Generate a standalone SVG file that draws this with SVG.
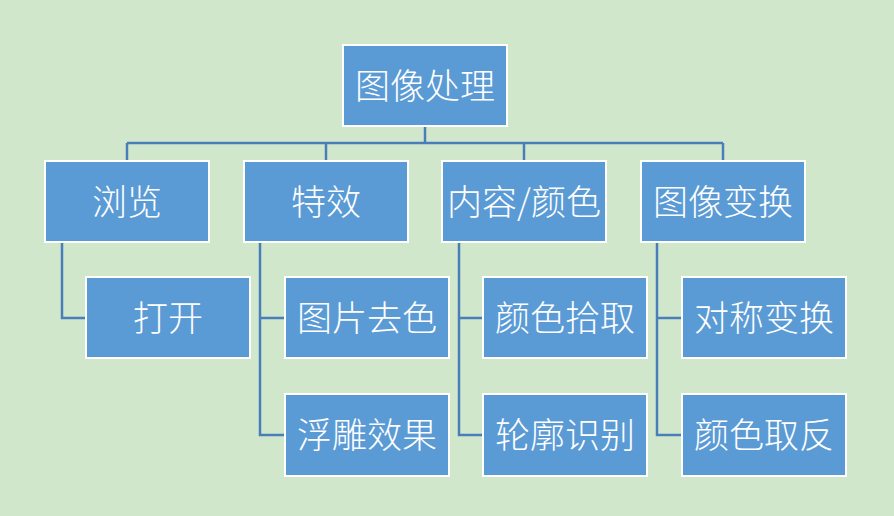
<svg xmlns="http://www.w3.org/2000/svg" width="894" height="516" viewBox="0 0 894 516">
<style>
.box{fill:#5B9BD5;stroke:#FFFFFF;stroke-width:2}
.lbl{fill:#FFFFFF;font-family:"Noto Sans CJK SC","Noto Sans",sans-serif;font-size:35px;font-weight:300;text-anchor:middle;dominant-baseline:central}
.con{fill:none;stroke:#4A7EBB;stroke-width:2.5}
</style>
<rect x="0" y="0" width="894" height="516" fill="#D0E7CC"/>
<g id="connectors">
<path class="con" d="M425 127V143M127 143H723M127 143V160M326 143V160M524 143V160M723 143V160"/>
<path class="con" d="M62 243V318H85"/>
<path class="con" d="M260 243V435H284M260 318H284"/>
<path class="con" d="M459 243V435H483M459 318H483"/>
<path class="con" d="M657 243V435H681M657 318H681"/>
</g>
<g id="n-root"><rect class="box" x="343" y="45" width="164" height="81"/><text class="lbl" x="425" y="83">图像处理</text></g>
<g id="n-browse"><rect class="box" x="45" y="161" width="164" height="81"/><text class="lbl" x="127" y="199">浏览</text></g>
<g id="n-effect"><rect class="box" x="244" y="161" width="164" height="81"/><text class="lbl" x="326" y="199">特效</text></g>
<g id="n-content"><rect class="box" x="442" y="161" width="164" height="81"/><text class="lbl" x="524" y="199">内容/颜色</text></g>
<g id="n-transform"><rect class="box" x="641" y="161" width="164" height="81"/><text class="lbl" x="723" y="199">图像变换</text></g>
<g id="n-open"><rect class="box" x="86" y="277" width="164" height="81"/><text class="lbl" x="168" y="315">打开</text></g>
<g id="n-gray"><rect class="box" x="285" y="277" width="164" height="81"/><text class="lbl" x="367" y="315">图片去色</text></g>
<g id="n-emboss"><rect class="box" x="285" y="394" width="164" height="82"/><text class="lbl" x="367" y="432">浮雕效果</text></g>
<g id="n-pick"><rect class="box" x="483" y="277" width="164" height="81"/><text class="lbl" x="565" y="315">颜色拾取</text></g>
<g id="n-edge"><rect class="box" x="483" y="394" width="164" height="82"/><text class="lbl" x="565" y="432">轮廓识别</text></g>
<g id="n-sym"><rect class="box" x="682" y="277" width="164" height="81"/><text class="lbl" x="764" y="315">对称变换</text></g>
<g id="n-invert"><rect class="box" x="682" y="394" width="164" height="82"/><text class="lbl" x="764" y="432">颜色取反</text></g>
</svg>
